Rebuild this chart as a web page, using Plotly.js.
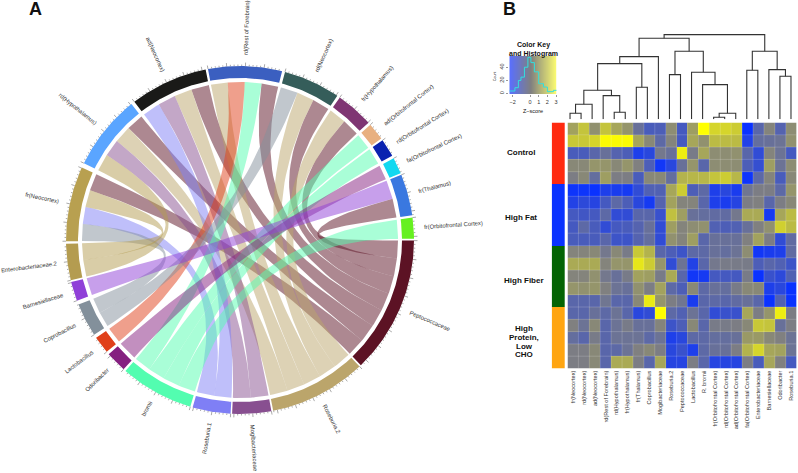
<!DOCTYPE html>
<html>
<head>
<meta charset="utf-8">
<script src="https://cdn.plot.ly/plotly-3.0.1.min.js"></script>
<style>html,body{margin:0;padding:0;background:#fff}</style>
</head>
<body>
<div id="chart" style="width:798px;height:473px"></div>
<script>
// chord sectors, clockwise from east, in degrees
const sectorNames = ['Peptococcaceae','Roseburia.2','Mogibacteriaceae','Roseburia.1','bromii','Odoribacter','Lactobacillus','Coprobacillus','Barnesiellaceae','Enterobacteriaceae.2','fr(Neocortex)','rd(Hypothalamus)','ad(Neocortex)','rd(Rest of Forebrain)','rd(Neocortex)','fr(Hypothalamus)','ad(Orbitofrontal Cortex)','rd(Orbitofrontal Cortex)','fa(Orbitofrontal Cortex)','fr(Thalamus)','fr(Orbitofrontal Cortex)'];
const sectorStart = [0.2,46.6,79.6,93.1,106.6,132,140,147,159.6,166.6,179.6,206.2,232.6,259.4,285,305,318.5,325,332,338,352.6];
const sectorEnd = [46,79,92.6,105.8,131.2,139,145.8,158.2,166,178.8,204.6,231.4,258.6,284,304,317.6,324.3,331,337.4,351.8,359.6];
const sectorColors = ['#5c1224','#bba56b','#884f90','#7f7ff5','#53fdb0','#851f80','#e0401a','#83909b','#9040d8','#b49c50','#b8a050','#5aa5ff','#1a1a18','#3b5fc0','#355d5a','#7f3573','#e8b080','#0a22b0','#12d8f0','#3a78e0','#66f020'];
// who each sector links to, in clockwise order inside the sector
const sectorPartners = [
  ['fr(Thalamus)','fr(Hypothalamus)','rd(Neocortex)','rd(Rest of Forebrain)','ad(Neocortex)','rd(Hypothalamus)','fr(Neocortex)'],
  ['fr(Hypothalamus)','rd(Neocortex)','rd(Rest of Forebrain)','ad(Neocortex)','rd(Hypothalamus)'],
  ['ad(Neocortex)','rd(Hypothalamus)'],
  ['ad(Neocortex)','fr(Neocortex)'],
  ['fr(Orbitofrontal Cortex)','rd(Orbitofrontal Cortex)','ad(Orbitofrontal Cortex)','rd(Rest of Forebrain)'],
  ['fa(Orbitofrontal Cortex)'],
  ['rd(Rest of Forebrain)'],
  ['rd(Neocortex)','fr(Neocortex)'],
  ['fr(Thalamus)'],
  ['rd(Hypothalamus)','fr(Neocortex)'],
  ['Coprobacillus','Roseburia.1','Enterobacteriaceae.2','Peptococcaceae'],
  ['Enterobacteriaceae.2','Mogibacteriaceae','Roseburia.2','Peptococcaceae'],
  ['Roseburia.1','Mogibacteriaceae','Roseburia.2','Peptococcaceae'],
  ['Roseburia.2','Lactobacillus','bromii','Peptococcaceae'],
  ['Coprobacillus','Roseburia.2','Peptococcaceae'],
  ['Roseburia.2','Peptococcaceae'],
  ['bromii'],
  ['bromii'],
  ['Odoribacter'],
  ['Barnesiellaceae','Peptococcaceae'],
  ['bromii']
];
const taxaCount = 10;

// heatmap
const colLabels = ['fr(Neocortex)','rd(Neocortex)','ad(Neocortex)','rd(Rest of Forebrain)','rd(Hypothalamus)','fr(Hypothalamus)','fr(Thalamus)','Coprobacillus','Mogibacteriaceae','Roseburia.2','Peptococcaceae','Lactobacillus','R. bromii','fr(Orbitofrontal Cortex)','rd(Orbitofrontal Cortex)','ad(Orbitofrontal Cortex)','fa(Orbitofrontal Cortex)','Enterobacteriaceae','Barnesiellaceae','Odoribacter','Roseburia.1'];
const heatZ = [
  [0.8,1.6,0.4,1.6,0.9,0.5,-0.6,-1.4,-1.3,0.3,-1.5,0.7,3,2,2,1.8,-3,-1,0.1,-1.1,0.3],
  [1.7,1.7,2,2.9,2.9,2.9,0.9,0.2,-0.9,0.1,-1.5,0.9,0.4,1.4,1.4,1.4,-2.4,-0.7,-0.6,-0.5,0.4],
  [-1.4,-1.4,-1,-0.6,-1.1,-1.3,-2.5,-2.2,-0.3,-0.6,2.6,-0.2,0.9,0.3,0.3,0.4,-1,-2,0.1,-0.5,-1.5],
  [0.2,0.2,0.5,0.5,0.2,0.5,0,-1.3,-2.8,-2.2,-0.6,0.5,-1,0.3,0.3,0.3,-1.3,-1.9,0.7,-0.5,0.3],
  [-0.1,0.2,-0.7,0.7,-0.1,-0.1,-1.4,0.2,0.2,-0.7,1.2,1.3,1.3,1.6,1.8,1.3,-2.9,-0.9,0.1,-1.4,0.2],
  [-2.9,-2.9,-3,-2.5,-2.6,-2.7,-2,-1.2,-1.2,0.9,1.8,-1.3,-0.9,-2.5,-2.2,-2.6,-0.4,-0.1,-0.1,-0.9,0.5],
  [-2.4,-2.1,-2.3,-1.5,-0.9,-1.3,-2.2,-2.7,-1.1,0.8,0.1,0.1,-1,-2.5,-2.6,-2.3,-0.1,0,-1,-0.1,0.2],
  [-1.5,-1.6,-1.5,-0.9,-2,-2,-1,-1,-1.8,1.5,0.7,-0.6,-0.7,-0.8,-0.8,-0.3,1,1,-2.7,0.9,1.4],
  [-1.5,-0.9,-1.4,-2,-1.5,-1.4,-1.1,-0.6,-2,0.7,0.1,0.3,0.4,-1.2,-1.3,-1.2,-0.6,0,0.4,1.9,1.4],
  [-1.4,-1.4,-1.4,-1,-1.7,-1.7,-1.1,-0.7,-2,0.4,0.1,0.7,-1,-0.6,-0.6,-0.6,0,0.8,-0.1,-2,-0.8],
  [0.1,0.1,0.2,-0.3,0.2,-0.2,1.7,1.2,-1,-1.3,-1.7,-0.9,-0.9,-0.6,-0.7,-0.5,0.3,-2.8,-2.6,-2.5,-0.8],
  [1,1,1,0.1,0.5,0.5,2.4,1.8,0.5,-2,-0.5,-2.4,-1,-0.3,-0.2,-0.2,-0.2,-1.3,-1,-1.2,-1.7],
  [0.1,0.1,0.4,-0.3,-0.6,-0.2,0.8,0.7,-0.2,1,-1,-2.8,-2.7,-1.5,-1.5,-1.5,-0.2,-3,-1.8,-2.1,-1.2],
  [0.5,0.4,0.5,0,-0.5,-0.6,0.4,-0.1,0.8,-0.9,-1.3,0.2,-0.9,-0.6,-0.7,-0.2,0.2,0.2,-2.5,-2.2,-3],
  [-1,-1,-1,-0.4,-1,-1,0.2,2.5,0.5,-0.1,-0.4,-2.6,-1,-0.9,-1,-0.8,-0.6,-1,-3,-1.2,-3],
  [-1,-1,-0.6,-0.9,-0.5,-1,-2.2,-2,3,-0.9,-1.2,-0.5,-1,-2,-1.8,-1.8,0.9,-0.1,0.5,2.6,-0.1],
  [0,-0.5,0.2,-1,-0.5,-0.2,-0.6,-0.6,0.1,-1.7,-1.3,0.2,-1,-0.2,-0.2,-0.1,0.2,1.7,1.6,-0.6,-0.1],
  [-0.7,-1,-0.2,-1,-0.5,-0.5,-0.5,-0.9,-0.5,-2.5,-2.2,-0.9,-0.9,-0.7,-0.7,-0.6,0.6,0.6,0.2,0,-0.5],
  [-0.1,-0.1,0.2,-1,-0.9,-0.5,0,0.2,-0.1,-2.2,-1.8,-2.5,-0.9,-0.6,-0.6,-0.1,1.2,2,0.9,0.8,-0.5],
  [-0.1,-0.1,0.2,-1,1,1,-0.1,-1,0.9,-2.3,-2.3,-0.1,-1,-2.3,-2.3,-2.3,-0.1,-1.4,0.9,0,-1.5]
];
const rowGroups = [0,0,0,0,0,1,1,1,1,1,2,2,2,2,2,3,3,3,3,3];
const groupColors = ['#ff2a10','#0a32ff','#046404','#ffa511'];

// dendrogram merges: children are leaf numbers, or 'nK' for merge K
const mergeLeft = [0,'n0',4,3,'n1',6,'n4','n6',9,13,'n9',12,11,'n8','n7',16,19,18,'n15','n14'];
const mergeRight = [1,2,5,'n2','n3',7,'n5',8,10,14,15,'n10','n11','n12','n13',17,20,'n16','n17','n18'];
const mergeHeight = [6,15,7,23.7,29,32,55.7,62.7,44.7,2,6,34.7,47,68,81,49,43,49.7,68,84.7];

// colour key
const keyLevels = [-2.4,-1.5,0,1,2,3.08];
const histEdges = [-2.4,-1.75,-1.35,-1.05,-0.65,-0.25,0.1,0.5,1,1.55,2,2.7,3.08];
const histCounts = [4,9,20,25,40,55,47,33,15,10,3,5,5];
const keyTicks = [-2,0,1,2,3];
const countTicks = [0,20,40];

const ribbonR = 158, ringIn = 162, ringOut = 174;
const font = 'Liberation Sans, Arial, sans-serif';
const labelSize = 5.9;

function pt(r, deg){
  let a = deg * Math.PI / 180;
  return [r * Math.cos(a), r * Math.sin(a)];
}

function arcPts(r, from, to){
  let out = [];
  let n = Math.max(2, Math.ceil(Math.abs(to - from) / 0.5));
  for(let i = 0; i <= n; i++) out.push(pt(r, from + (to - from) * i / n));
  return out;
}

// quadratic curve with its control point on the circle centre
function curvePts(p0, p1){
  let out = [];
  for(let i = 1; i < 40; i++){
    let t = i / 40;
    out.push([(1-t)*(1-t)*p0[0] + t*t*p1[0], (1-t)*(1-t)*p0[1] + t*t*p1[1]]);
  }
  return out;
}

function slot(sectorIdx, partner){
  let list = sectorPartners[sectorIdx];
  let w = (sectorEnd[sectorIdx] - sectorStart[sectorIdx]) / list.length;
  let k = list.indexOf(partner);
  return [sectorStart[sectorIdx] + k * w, sectorStart[sectorIdx] + (k + 1) * w];
}

function hexToRgba(hex, alpha){
  let n = parseInt(hex.slice(1), 16);
  return `rgba(${n >> 16},${(n >> 8) & 255},${n & 255},${alpha})`;
}

function polyTrace(points, color){
  return {
    type: 'scatter', mode: 'lines', xaxis: 'x', yaxis: 'y',
    x: points.map(p => p[0]), y: points.map(p => p[1]),
    fill: 'toself', fillcolor: color, line: {width: 0}, hoverinfo: 'skip', showlegend: false
  };
}

function ribbonTraces(){
  let out = [];
  for(let i = 0; i < taxaCount; i++){
    sectorPartners[i].forEach(name => {
      let j = sectorNames.indexOf(name);
      let a = slot(i, name), b = slot(j, sectorNames[i]);
      let pts = arcPts(ribbonR, a[0], a[1])
        .concat(curvePts(pt(ribbonR, a[1]), pt(ribbonR, b[0])))
        .concat(arcPts(ribbonR, b[0], b[1]))
        .concat(curvePts(pt(ribbonR, b[1]), pt(ribbonR, a[0])));
      out.push(polyTrace(pts, hexToRgba(sectorColors[i], 0.5)));
    });
  }
  return out;
}

function ringTraces(){
  return sectorNames.map((name, i) => {
    let pts = arcPts(ringOut, sectorStart[i], sectorEnd[i]).concat(arcPts(ringIn, sectorEnd[i], sectorStart[i]));
    return polyTrace(pts, sectorColors[i]);
  });
}

function tickTrace(){
  let xs = [], ys = [];
  sectorNames.forEach((name, i) => {
    let k = 0;
    for(let d = sectorStart[i]; d <= sectorEnd[i] + 0.01; d += 1.24){
      let p0 = pt(ringOut, d), p1 = pt(ringOut + (k % 5 == 0 ? 3.5 : 1.5), d);
      xs.push(p0[0], p1[0], null);
      ys.push(p0[1], p1[1], null);
      k++;
    }
  });
  return {type: 'scatter', mode: 'lines', xaxis: 'x', yaxis: 'y', x: xs, y: ys,
    line: {color: '#555', width: 0.5}, hoverinfo: 'skip', showlegend: false};
}

function chordLabels(){
  let ctx = document.createElement('canvas').getContext('2d');
  ctx.font = `${labelSize}px "Liberation Sans"`;
  return sectorNames.map((name, i) => {
    let mid = (sectorStart[i] + sectorEnd[i]) / 2;
    let p = pt(185 + ctx.measureText(name).width / 2, mid);
    let right = Math.cos(mid * Math.PI / 180) > 0;
    let ang = right ? mid : mid - 180;
    if(ang > 180) ang -= 360;
    return {xref: 'x', yref: 'y', x: p[0], y: p[1], text: name, showarrow: false, textangle: ang,
      xanchor: 'center', yanchor: 'middle', font: {size: labelSize, color: '#333', family: font}};
  });
}

function dendroTrace(){
  let xs = [], ys = [], pos = [];
  function place(c){
    if(typeof c === 'number') return {x: c, h: 0};
    return pos[+c.slice(1)];
  }
  mergeHeight.forEach((h, i) => {
    let l = place(mergeLeft[i]), r = place(mergeRight[i]);
    xs.push(l.x, l.x, r.x, r.x, null);
    ys.push(l.h, h, h, r.h, null);
    pos[i] = {x: (l.x + r.x) / 2, h: h};
  });
  return {type: 'scatter', mode: 'lines', xaxis: 'x4', yaxis: 'y4', x: xs, y: ys,
    line: {color: '#333', width: 1.1}, hoverinfo: 'skip', showlegend: false};
}

// faint lines between the heatmap cells
function gridTrace(){
  let xs = [], ys = [];
  colLabels.forEach((c, i) => { if(i){ xs.push(i - 0.5, i - 0.5, null); ys.push(-0.5, 19.5, null); } });
  heatZ.forEach((r, i) => { if(i){ xs.push(-0.5, 20.5, null); ys.push(i - 0.5, i - 0.5, null); } });
  return {type: 'scatter', mode: 'lines', xaxis: 'x2', yaxis: 'y2', x: xs, y: ys,
    line: {color: 'rgba(255,255,255,0.3)', width: 0.6}, hoverinfo: 'skip', showlegend: false};
}

const heatScale = [[0,'#0a32ff'],[0.5,'#808080'],[1,'#ffff00']];
const keyScale = [[0,'#5a70ff'],[0.44,'#808080'],[1,'#ffff70']];

let data = ribbonTraces().concat(ringTraces()).concat([tickTrace(), dendroTrace(),
  {type: 'heatmap', xaxis: 'x2', yaxis: 'y2', z: heatZ, zmin: -3, zmax: 3, colorscale: heatScale,
    showscale: false, hoverinfo: 'skip'},
  gridTrace(),
  {type: 'heatmap', xaxis: 'x3', yaxis: 'y2', z: rowGroups.map(g => [g]), zmin: 0, zmax: 3, showscale: false, hoverinfo: 'skip',
    colorscale: [[0,groupColors[0]],[0.33,groupColors[0]],[0.33,groupColors[1]],[0.66,groupColors[1]],[0.66,groupColors[2]],[0.99,groupColors[2]],[0.99,groupColors[3]],[1,groupColors[3]]]},
  {type: 'heatmap', xaxis: 'x5', yaxis: 'y5', x: keyLevels, y: [-1, 57], z: [keyLevels, keyLevels], zmin: -2.4, zmax: 3.08,
    colorscale: keyScale, zsmooth: 'best', showscale: false, hoverinfo: 'skip'},
  {type: 'scatter', mode: 'lines', xaxis: 'x5', yaxis: 'y5', x: histEdges, y: histCounts,
    line: {color: '#30e0e0', width: 1, shape: 'hv'}, hoverinfo: 'skip', showlegend: false}
]);

function dom(a, b, total){ return [a / total, b / total]; }
function domY(top, bottom){ return [1 - bottom / 473, 1 - top / 473]; }
const hidden = {visible: false, fixedrange: true};

function note(text, x, y, size, bold, extra){
  return Object.assign({xref: 'paper', yref: 'paper', x: x / 798, y: 1 - y / 473, text: bold ? `<b>${text}</b>` : text,
    showarrow: false, xanchor: 'center', yanchor: 'middle', font: {size: size, color: '#111', family: font}}, extra || {});
}

let layout = {
  width: 798, height: 473, margin: {l: 0, r: 0, t: 0, b: 0},
  paper_bgcolor: '#fff', plot_bgcolor: '#fff', showlegend: false,
  xaxis: Object.assign({}, hidden, {domain: dom(0, 480, 798), range: [-240, 240]}),
  yaxis: Object.assign({}, hidden, {domain: domY(0, 473), range: [233, -240]}),
  xaxis2: {domain: dom(567.5, 796.7, 798), anchor: 'y2', range: [-0.5, 20.5], tickmode: 'array',
    tickvals: colLabels.map((c, i) => i), ticktext: colLabels, tickangle: -90, ticks: '', showgrid: false, zeroline: false,
    showline: false, tickfont: {size: 5.6, color: '#333', family: font}},
  yaxis2: Object.assign({}, hidden, {domain: domY(122.5, 368.5), range: [19.5, -0.5], anchor: 'x2'}),
  xaxis3: Object.assign({}, hidden, {domain: dom(551.7, 565, 798), range: [-0.5, 0.5], anchor: 'y2'}),
  xaxis4: Object.assign({}, hidden, {domain: dom(564.5, 796.5, 798), range: [-0.5, 20.5], anchor: 'y4'}),
  yaxis4: Object.assign({}, hidden, {domain: domY(30, 119.3), range: [0, 89.3], anchor: 'x4'}),
  xaxis5: {domain: dom(509.3, 556.7, 798), anchor: 'y5', range: [-2.4, 3.08], tickmode: 'array', tickvals: keyTicks,
    ticktext: keyTicks.map(v => v < 0 ? '\u2212' + (-v) : '' + v), ticks: 'outside', ticklen: 2, tickwidth: 0.5, tickcolor: '#333',
    showgrid: false, zeroline: false, showline: false, tickfont: {size: 5.5, color: '#333', family: font}},
  yaxis5: {domain: domY(56, 94.3), anchor: 'x5', range: [-1, 57], tickmode: 'array', tickvals: countTicks, tickangle: -90,
    ticks: 'outside', ticklen: 2, tickwidth: 0.5, tickcolor: '#333', showgrid: false, zeroline: false, showline: false,
    tickfont: {size: 5.5, color: '#333', family: font}},
  annotations: chordLabels().concat([
    note('A', 35, 9, 18, true),
    note('B', 509, 9, 18, true),
    note('Color Key', 533, 45, 7, true),
    note('and Histogram', 533, 54, 7, true),
    note('Z\u2212score', 533, 111, 5.5, false),
    note('Count', 495, 77, 3.5, false, {textangle: -90}),
    note('Control', 521, 152, 8, true),
    note('High Fat', 521, 217, 8, true),
    note('High Fiber', 524, 280, 8, true),
    note('High', 524, 328, 8, true),
    note('Protein,', 524, 337, 8, true),
    note('Low', 524, 346, 8, true),
    note('CHO', 524, 354.5, 8, true)
  ])
};

Plotly.newPlot('chart', data, layout, {staticPlot: true, displayModeBar: false});
</script>
</body>
</html>
